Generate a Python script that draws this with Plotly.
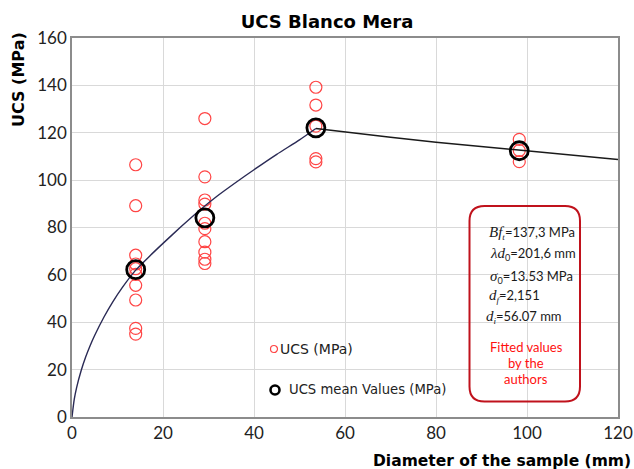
import plotly.graph_objects as go

# ---- data ----
ucs_x_14 = [14.0] * 10
ucs_y_14 = [106.5, 89.2, 68.3, 64.6, 62.6, 60.2, 55.6, 49.4, 37.4, 35.0]
ucs_x_29 = [29.2] * 10
ucs_y_29 = [126.0, 101.4, 91.6, 89.9, 81.8, 79.5, 74.0, 69.6, 66.6, 64.8]
ucs_x_54 = [53.6] * 5
ucs_y_54 = [139.2, 131.7, 122.8, 109.1, 107.7]
ucs_x_99 = [98.3] * 3
ucs_y_99 = [117.2, 112.5, 107.8]

mean_x = [14.0, 29.2, 53.6, 98.3]
mean_y = [62.2, 84.1, 122.1, 112.4]

fit_left_x = [0, 0.5, 1, 2, 3, 4, 5, 7, 9, 11, 14, 17, 20, 24, 28, 32, 36, 40, 45, 50, 53.6]
fit_left_y = [0, 7.5, 12.3, 19.5, 25.3, 30.2, 34.5, 42.1, 48.7, 54.5, 62.0, 67.8, 73.3,
              80.4, 87.2, 93.4, 99.0, 104.4, 110.9, 117.0, 121.8]
fit_right_x = [53.6, 60, 70, 80, 90, 100, 110, 120]
fit_right_y = [121.8, 120.3, 118.1, 116.0, 114.1, 112.2, 110.4, 108.7]

x_ticks = [0, 20, 40, 60, 80, 100, 120]
y_ticks = [0, 20, 40, 60, 80, 100, 120, 140, 160]

legend_labels = ["UCS (MPa)", "UCS mean Values (MPa)"]

MATH = "<span style='font-family:Liberation Serif;font-size:15px'><i>{}</i></span>"
SUBM = "<span style='font-family:Liberation Serif'><i>{}</i></span>"
box_lines = [
    MATH.format("Bf") + "<sub>" + SUBM.format("t") + "</sub>=137,3 MPa",
    MATH.format("λd") + "<sub>0</sub>=201,6 mm",
    MATH.format("σ") + "<sub>0</sub>=13.53 MPa",
    MATH.format("d") + "<sub>" + SUBM.format("f") + "</sub>=2,151",
    MATH.format("d") + "<sub>" + SUBM.format("i") + "</sub>=56.07 mm",
]
red_note = ["Fitted values", "by the", "authors"]

# ---- geometry ----
W, H = 634, 469
L, R, T, B = 72, 16, 38, 52
PW, PH = W - L - R, H - T - B


def px(xp):
    return (xp - L) / PW


def py(yp):
    return (H - B - yp) / PH


fig = go.Figure()

all_x = ucs_x_14 + ucs_x_29 + ucs_x_54 + ucs_x_99
all_y = ucs_y_14 + ucs_y_29 + ucs_y_54 + ucs_y_99

fig.add_trace(go.Scatter(
    x=all_x, y=all_y, mode="markers", name=legend_labels[0], showlegend=False,
    marker=dict(symbol="circle-open", size=12, color="#FF4545", line=dict(width=1.2)),
))
fig.add_trace(go.Scatter(
    x=fit_left_x, y=fit_left_y, mode="lines", showlegend=False,
    line=dict(color="#2A2A55", width=1.4, shape="spline", smoothing=0.6),
))
fig.add_trace(go.Scatter(
    x=fit_right_x, y=fit_right_y, mode="lines", showlegend=False,
    line=dict(color="#1A1A1A", width=1.4),
))
fig.add_trace(go.Scatter(
    x=mean_x, y=mean_y, mode="markers", name=legend_labels[1], showlegend=False,
    marker=dict(symbol="circle-open", size=18, color="#000000", line=dict(width=2.8)),
))

# rounded box
x0, x1 = px(469.5), px(580)
yt, yb = py(206), py(401.5)
rx, ry = 15 / PW, 15 / PH
path = (f"M {x0+rx},{yt} L {x1-rx},{yt} Q {x1},{yt} {x1},{yt-ry} "
        f"L {x1},{yb+ry} Q {x1},{yb} {x1-rx},{yb} L {x0+rx},{yb} "
        f"Q {x0},{yb} {x0},{yb+ry} L {x0},{yt-ry} Q {x0},{yt} {x0+rx},{yt} Z")
shapes = [dict(type="path", xref="paper", yref="paper", path=path,
               line=dict(color="#C0121C", width=2))]

# legend symbols (drawn in the legend area)
shapes.append(dict(type="circle", xref="paper", yref="paper",
                   x0=px(270.5), x1=px(277.5), y0=py(352.5), y1=py(345.5),
                   line=dict(color="#FF4545", width=1.2)))
shapes.append(dict(type="circle", xref="paper", yref="paper",
                   x0=px(270.5), x1=px(279.5), y0=py(394.5), y1=py(385.5),
                   line=dict(color="#000000", width=2.6)))

annotations = []
annotations.append(dict(text=legend_labels[0], x=px(278), y=py(349), xref="paper", yref="paper",
                        xanchor="left", yanchor="middle", showarrow=False,
                        font=dict(family="DejaVu Sans", size=14, color="#222")))
annotations.append(dict(text=legend_labels[1], x=px(287), y=py(389), xref="paper", yref="paper",
                        xanchor="left", yanchor="middle", showarrow=False,
                        font=dict(family="DejaVu Sans", size=13.2, color="#222")))

line_y = [233, 254, 277, 296, 317]
line_x = [487, 488, 488, 487, 484]
for t, yy, xx in zip(box_lines, line_y, line_x):
    annotations.append(dict(text=t, x=px(xx), y=py(yy), xref="paper", yref="paper",
                            xanchor="left", yanchor="middle", showarrow=False,
                            font=dict(family="Lato", size=13, color="#1A1A1A")))
for t, yy in zip(red_note, [347, 363, 379]):
    annotations.append(dict(text=t, x=px(526), y=py(yy), xref="paper", yref="paper",
                            xanchor="center", yanchor="middle", showarrow=False,
                            font=dict(family="Lato", size=13, color="#FF1010")))

annotations.append(dict(text="<b>UCS (MPa)</b>", textangle=-90, x=px(18), y=py(80),
                        xref="paper", yref="paper", xanchor="center", yanchor="middle",
                        showarrow=False, font=dict(family="DejaVu Sans", size=16, color="#000")))
annotations.append(dict(text="<b>Diameter of the sample (mm)</b>", x=px(633), y=py(461),
                        xref="paper", yref="paper", xanchor="right", yanchor="middle",
                        showarrow=False, font=dict(family="DejaVu Sans", size=15.5, color="#000")))

fig.update_layout(
    width=W, height=H,
    margin=dict(l=L, r=R, t=T, b=B, autoexpand=False),
    paper_bgcolor="white", plot_bgcolor="white",
    title=dict(text="<b>UCS Blanco Mera</b>", x=327 / W, xanchor="center",
               y=1 - 22 / H, yanchor="middle", xref="container", yref="container",
               font=dict(family="DejaVu Sans", size=18, color="#000")),
    xaxis=dict(range=[0, 120], tickvals=x_ticks, ticktext=[str(v) for v in x_ticks],
               automargin=False,
               showgrid=True, gridcolor="#D9D9D9", gridwidth=1, zeroline=False,
               showline=True, linecolor="#8C8C8C", linewidth=1.5, mirror=True,
               ticks="", tickfont=dict(family="Lato", size=17, color="#222")),
    yaxis=dict(range=[0, 160], tickvals=y_ticks, ticktext=[str(v) for v in y_ticks],
               automargin=False,
               showgrid=True, gridcolor="#D9D9D9", gridwidth=1, zeroline=False,
               showline=True, linecolor="#8C8C8C", linewidth=1.5, mirror=True,
               ticks="", tickfont=dict(family="Lato", size=17, color="#222")),
    showlegend=False,
    shapes=shapes,
    annotations=annotations,
)

fig.write_html("out.html")
